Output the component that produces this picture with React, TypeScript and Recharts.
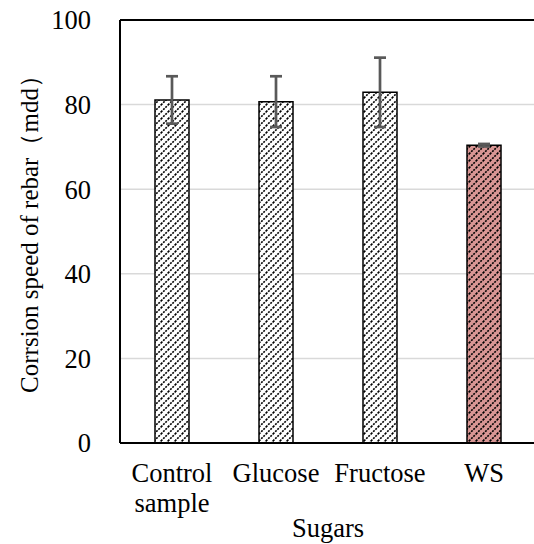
import React from "react";
import { BarChart, Bar, XAxis, YAxis, CartesianGrid, ErrorBar, Cell, ReferenceLine } from "recharts";

const categories = ["Control sample", "Glucose", "Fructose", "WS"];
const xTickLines = [["Control", "sample"], ["Glucose"], ["Fructose"], ["WS"]];
const speeds = [81.1, 80.7, 82.9, 70.4];
const errors = [5.6, 6.0, 8.2, 0.3];
const yTicks = [0, 20, 40, 60, 80, 100];

const data = categories.map((c, i) => ({ name: c, value: speeds[i], err: errors[i] }));

const FONT = "Liberation Serif";
const FS = 26.5;

const XTick = (props: any) => {
  const { x, y, payload } = props;
  const lines = xTickLines[payload.index] || [payload.value];
  return (
    <g>
      {lines.map((l: string, i: number) => (
        <text key={i} x={x} y={y + 39 + i * 30} textAnchor="middle" style={{ fontFamily: FONT }} fontFamily={FONT} fontSize={FS} fill="#000">
          {l}
        </text>
      ))}
    </g>
  );
};

export default function App() {
  return (
    <div style={{ position: "absolute", left: 0, top: 0, background: "#fff", fontFamily: FONT }}>
      <BarChart width={534} height={544} data={data} margin={{ top: 20, right: -2, left: 0, bottom: 0 }} barCategoryGap={0}>
        <defs>
          <pattern id="hatchWhite" patternUnits="userSpaceOnUse" width="7" height="7">
            <rect width="7" height="7" fill="#fff" />
            <path d="M-1,1 l2,-2 M0,7 l7,-7 M6,8 l2,-2" stroke="#000" strokeWidth={1.6} strokeDasharray="2 1.1" />
          </pattern>
          <pattern id="hatchPink" patternUnits="userSpaceOnUse" width="7" height="7">
            <rect width="7" height="7" fill="#d99694" />
            <path d="M-1,1 l2,-2 M0,7 l7,-7 M6,8 l2,-2" stroke="#000" strokeWidth={1.6} strokeDasharray="2 1.1" />
          </pattern>
        </defs>
        <CartesianGrid vertical={false} stroke="#d9d9d9" strokeWidth={1.5} />
        <XAxis
          dataKey="name"
          height={101}
          tickLine={false}
          tickSize={0}
          tickMargin={0}
          axisLine={{ stroke: "#000", strokeWidth: 2 }}
          tick={<XTick />}
          interval={0}
          label={(p: any) => (
            <text x={328} y={537} textAnchor="middle" style={{ fontFamily: FONT }} fontFamily={FONT} fontSize={FS} fill="#000">
              Sugars
            </text>
          )}
        />
        <YAxis
          width={120}
          domain={[0, 100]}
          ticks={yTicks}
          tickLine={false}
          tickSize={0}
          tickMargin={29}
          axisLine={{ stroke: "#000", strokeWidth: 2 }}
          tick={{ fontFamily: FONT, fontSize: FS, fill: "#000", style: { fontFamily: FONT } }}
          label={(p: any) => (
            <text
              x={29}
              y={228}
              transform="rotate(-90 29 228)"
              textAnchor="middle"
              dominantBaseline="central"
              style={{ fontFamily: FONT }}
              fontFamily={FONT}
              fontSize={25}
              fill="#000"
            >
              Corrsion speed of rebar（mdd）
            </text>
          )}
        />
        <ReferenceLine y={100} stroke="#000" strokeWidth={2} ifOverflow="extendDomain" />
        <Bar dataKey="value" barSize={34} stroke="#000" strokeWidth={1.5} isAnimationActive={false}>
          {data.map((d, i) => (
            <Cell key={i} fill={i === 3 ? "url(#hatchPink)" : "url(#hatchWhite)"} />
          ))}
          <ErrorBar dataKey="err" width={6} stroke="#595959" strokeWidth={2.7} direction="y" />
        </Bar>
      </BarChart>
    </div>
  );
}
